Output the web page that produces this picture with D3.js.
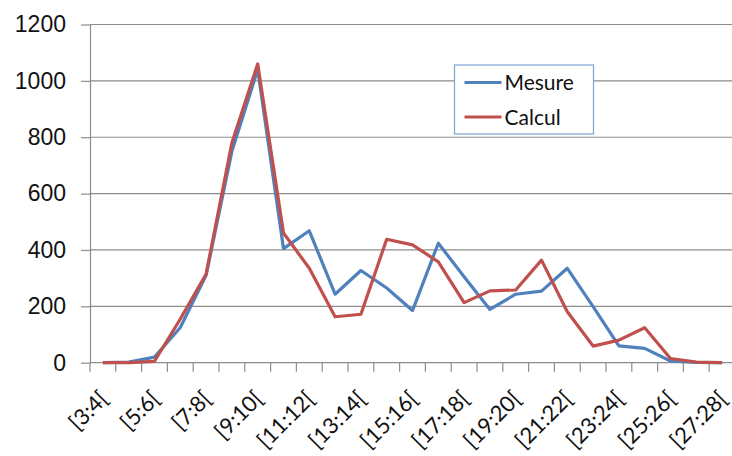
<!DOCTYPE html>
<style>
  body { margin: 0; background: #fff; }
  svg { display: block; font-family: Lato, "Open Sans", sans-serif; }
  .grid line { stroke: #8c8c8c; stroke-width: 1.2; }
  .axis path, .axis line { stroke: #8c8c8c; stroke-width: 1.2; }
  .axis text { fill: #111; }
</style>
<body>
</body>
<script src="https://cdn.jsdelivr.net/npm/d3@7"></script>
<script>
  const categories = [
    '[3:4[', '[4:5[', '[5:6[', '[6:7[', '[7:8[', '[8:9[', '[9:10[', '[10:11[',
    '[11:12[', '[12:13[', '[13:14[', '[14:15[', '[15:16[', '[16:17[', '[17:18[',
    '[18:19[', '[19:20[', '[20:21[', '[21:22[', '[22:23[', '[23:24[', '[24:25[',
    '[25:26[', '[26:27[', '[27:28['
  ];
  const mesure = [0, 2, 20, 125, 310, 750, 1040, 405, 468, 243, 327, 265, 185,
    424, 305, 189, 243, 254, 335, 199, 60, 51, 6, 1, 0];
  const calcul = [0, 0, 5, 155, 315, 780, 1060, 460, 335, 163, 172, 438, 418,
    358, 213, 255, 258, 364, 181, 59, 80, 124, 15, 2, 0];
  const yTicks = [0, 200, 400, 600, 800, 1000, 1200];
  const series = [
    {name: 'Mesure', values: mesure, color: '#4f81bd'},
    {name: 'Calcul', values: calcul, color: '#c0504d'},
  ];

  const w = 732, h = 456;
  const l = 90, r = 735, t = 24.5, b = 362.7;

  const svg = d3.select('body').append('svg')
    .attr('width', w)
    .attr('height', h);

  const x = d3.scaleBand().domain(categories).range([l, r]);
  const y = d3.scaleLinear().domain([0, 1200]).range([b, t]);

  // horizontal gridlines
  svg.append('g').attr('class', 'grid')
    .selectAll('line')
    .data(yTicks.slice(1))
    .join('line')
    .attr('x1', l).attr('x2', r)
    .attr('y1', d => y(d)).attr('y2', d => y(d));

  // left axis
  svg.append('g').attr('class', 'axis')
    .attr('transform', `translate(${l}, 0)`)
    .call(d3.axisLeft(y).tickValues(yTicks).tickFormat(d3.format('d'))
      .tickSize(9).tickPadding(15).tickSizeOuter(0))
    .call(g => g.selectAll('text').style('font-size', '23px'));

  // bottom axis: ticks on band edges, labels every other category
  const xAxis = svg.append('g').attr('class', 'axis');
  xAxis.append('line')
    .attr('x1', l).attr('x2', r).attr('y1', b).attr('y2', b);
  xAxis.selectAll('line.tick')
    .data(categories)
    .join('line')
    .attr('class', 'tick')
    .attr('x1', d => x(d)).attr('x2', d => x(d))
    .attr('y1', b).attr('y2', b + 9);
  xAxis.selectAll('text')
    .data(categories.filter((d, i) => i % 2 === 0))
    .join('text')
    .attr('text-anchor', 'end')
    .attr('transform', d => `translate(${x(d) + x.bandwidth() / 2 + 1}, ${b + 32}) rotate(-45)`)
    .style('font-size', '22px')
    .attr('dy', '0.35em')
    .text(d => d);

  // lines
  const line = d3.line()
    .x((d, i) => x(categories[i]) + x.bandwidth() / 2)
    .y(d => y(d));

  svg.append('g')
    .selectAll('path')
    .data(series)
    .join('path')
    .attr('fill', 'none')
    .attr('stroke', d => d.color)
    .attr('stroke-width', 3.2)
    .attr('stroke-linejoin', 'round')
    .attr('d', d => line(d.values));

  // legend
  const legend = svg.append('g').attr('transform', 'translate(454.5, 65)');
  legend.append('rect')
    .attr('width', 139).attr('height', 69)
    .attr('fill', '#fff')
    .attr('stroke', '#7ea2d4')
    .attr('stroke-width', 1.2);
  const item = legend.selectAll('g')
    .data(series)
    .join('g')
    .attr('transform', (d, i) => `translate(0, ${17.5 + i * 34.5})`);
  item.append('line')
    .attr('x1', 10).attr('x2', 47)
    .attr('stroke', d => d.color)
    .attr('stroke-width', 3.2);
  item.append('text')
    .attr('x', 50)
    .attr('dy', '0.36em')
    .style('font-size', '21px')
    .attr('fill', '#111')
    .text(d => d.name);
</script>
